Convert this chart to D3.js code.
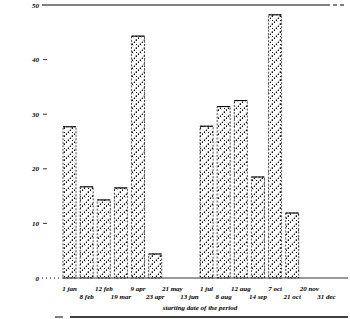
<!DOCTYPE html>
<html>
<head>
<meta charset="utf-8">
<script src="https://cdn.jsdelivr.net/npm/d3@7"></script>
<style>
  body { margin: 0; background: #fff; }
  text { font-family: "Liberation Serif", serif; font-style: italic; font-weight: bold; fill: #000; }
</style>
</head>
<body>
<div id="container"></div>
<script>
// period start dates (one slot each) and counts per period
var periods = ["1 jan","8 feb","12 feb","19 mar","9 apr","23 apr","21 may","13 jun",
               "1 jul","8 aug","12 aug","14 sep","7 oct","21 oct","20 nov","31 dec"];
var counts  = [27.7, 16.7, 14.3, 16.5, 44.3, 4.4, null, null,
               27.8, 31.4, 32.5, 18.5, 48.2, 11.9, null, null];
var yTicks = [0, 10, 20, 30, 40, 50];

var W = 350, H = 319;
var margin = {top: 5, right: 5, bottom: 41, left: 62};

var svg = d3.select("#container").append("svg")
    .attr("width", W).attr("height", H);

// scanned-looking fill: dots + dashed cross-hatch
var defs = svg.append("defs");
var pat = defs.append("pattern").attr("id", "hatch")
    .attr("patternUnits", "userSpaceOnUse")
    .attr("width", 8).attr("height", 8);
[[0,0],[4,4],[2,6],[6,2],[0,4]].forEach(function(p) {
  pat.append("rect").attr("x", p[0]).attr("y", p[1]).attr("width", 1).attr("height", 1).attr("fill", "#000");
});
pat.append("line").attr("x1", 0).attr("y1", 8).attr("x2", 8).attr("y2", 0)
    .attr("stroke", "#000").attr("stroke-width", 0.7).attr("stroke-dasharray", "1.5,1.5");
pat.append("line").attr("x1", 0).attr("y1", 0).attr("x2", 8).attr("y2", 8)
    .attr("stroke", "#444").attr("stroke-width", 0.5).attr("stroke-dasharray", "1,2.5");

var x = d3.scaleBand().domain(periods)
    .range([margin.left, margin.left + 17 * periods.length])
    .paddingInner(0.24).paddingOuter(0.06);
var y = d3.scaleLinear().domain([0, 50]).range([H - margin.bottom, margin.top]);

// frame lines
svg.append("line").attr("x1", 42).attr("x2", 326).attr("y1", y(50)).attr("y2", y(50))
    .attr("stroke", "#000").attr("stroke-width", 1);
svg.append("line").attr("x1", 326).attr("x2", 344).attr("y1", y(50)).attr("y2", y(50))
    .attr("stroke", "#000").attr("stroke-width", 1).attr("stroke-dasharray", "4,3");
svg.append("line").attr("x1", 42).attr("x2", 62).attr("y1", y(0)).attr("y2", y(0))
    .attr("stroke", "#000").attr("stroke-width", 1).attr("stroke-dasharray", "1,3");
svg.append("line").attr("x1", 62).attr("x2", 348).attr("y1", y(0)).attr("y2", y(0))
    .attr("stroke", "#000").attr("stroke-width", 0.8);
svg.append("line").attr("x1", 55).attr("x2", 63).attr("y1", 317).attr("y2", 317)
    .attr("stroke", "#000").attr("stroke-width", 1);
svg.append("line").attr("x1", 70).attr("x2", 348).attr("y1", 317).attr("y2", 317)
    .attr("stroke", "#000").attr("stroke-width", 1.3);

// y axis labels and short ticks
var yAxis = svg.append("g");
yAxis.selectAll(".ylab").data(yTicks).enter().append("text")
    .attr("class", "ylab")
    .attr("x", 39).attr("y", function(d) { return y(d) + 2.5; })
    .attr("text-anchor", "end").attr("font-size", 7).text(function(d) { return d; });
yAxis.selectAll(".ytick").data(yTicks.slice(1, 5)).enter().append("line")
    .attr("x1", 43).attr("x2", 47)
    .attr("y1", function(d) { return y(d); }).attr("y2", function(d) { return y(d); })
    .attr("stroke", "#000").attr("stroke-width", 0.8);

// bars
var bars = svg.append("g").selectAll("g")
    .data(periods.map(function(p, i) { return {p: p, v: counts[i]}; })
        .filter(function(d) { return d.v != null; }))
    .enter().append("g");
bars.append("rect")
    .attr("x", function(d) { return x(d.p); })
    .attr("y", function(d) { return y(d.v); })
    .attr("width", x.bandwidth())
    .attr("height", function(d) { return y(0) - y(d.v); })
    .attr("fill", "url(#hatch)")
    .attr("stroke", "#000").attr("stroke-width", 0.7).attr("stroke-dasharray", "2,1.5");
bars.append("line")
    .attr("x1", function(d) { return x(d.p); })
    .attr("x2", function(d) { return x(d.p) + x.bandwidth(); })
    .attr("y1", function(d) { return y(d.v); })
    .attr("y2", function(d) { return y(d.v); })
    .attr("stroke", "#000").attr("stroke-width", 1);

// x labels, alternating rows
svg.append("g").selectAll("text").data(periods).enter().append("text")
    .attr("x", function(d) { return x(d) + x.bandwidth() / 2; })
    .attr("y", function(d, i) { return i % 2 === 0 ? 291 : 299; })
    .attr("text-anchor", "middle").attr("font-size", 7)
    .text(function(d) { return d; });

svg.append("text").attr("x", 200).attr("y", 310)
    .attr("text-anchor", "middle").attr("font-size", 7)
    .text("starting date of the period");
</script>
</body>
</html>
